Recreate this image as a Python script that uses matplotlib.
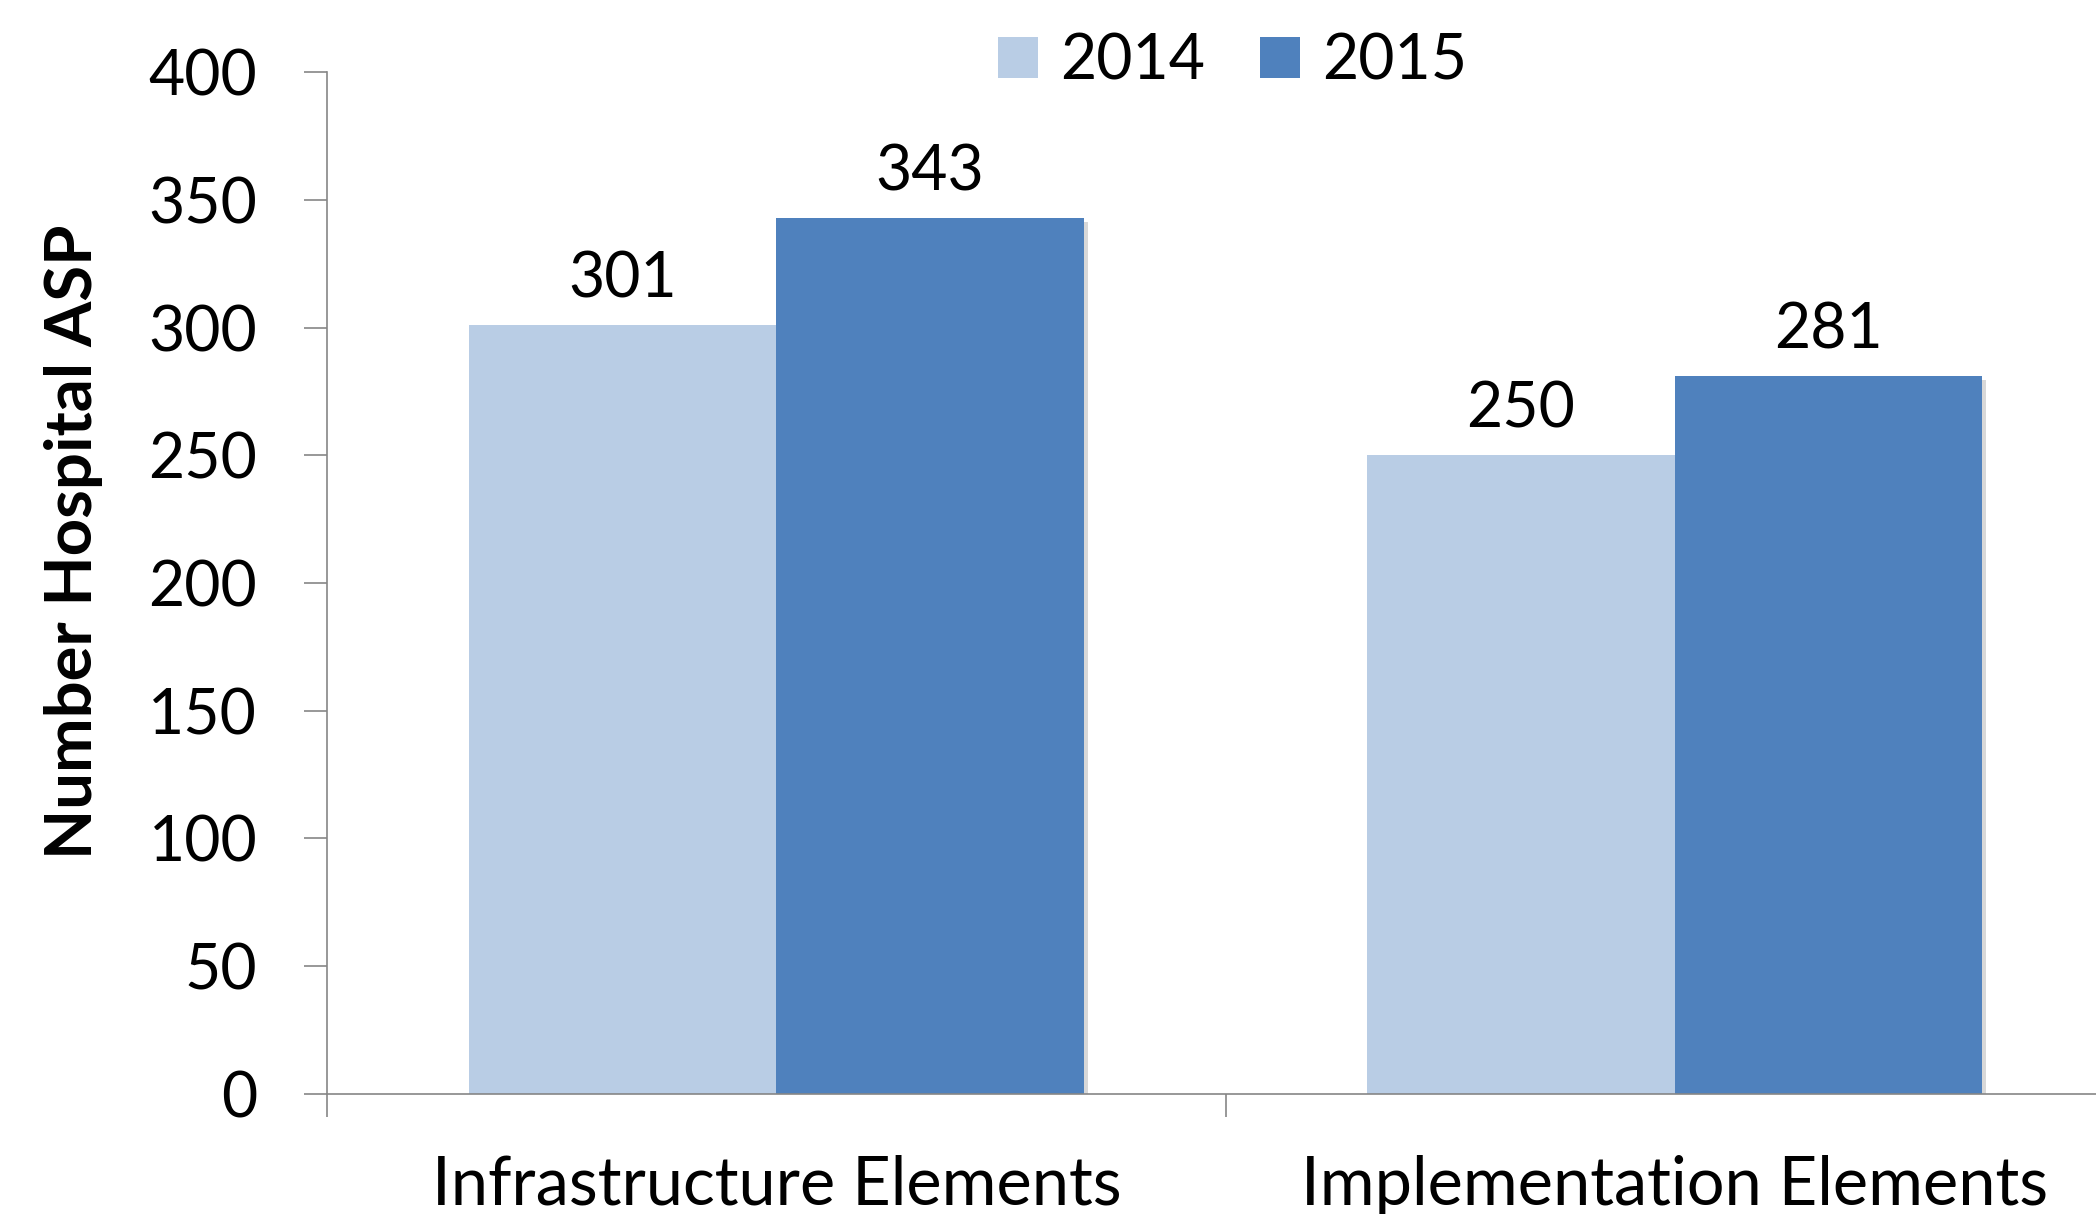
import matplotlib
matplotlib.use('Agg')
import matplotlib.pyplot as plt
import matplotlib.patheffects as pe
from matplotlib.patches import Patch
import numpy as np

categories = ['Infrastructure Elements', 'Implementation Elements']
years = ['2014', '2015']
values_2014 = [301, 250]
values_2015 = [343, 281]
colors = ['#B9CDE5', '#4F81BD']
yticks = [0, 50, 100, 150, 200, 250, 300, 350, 400]

plt.rcParams['font.family'] = ['Lato', 'DejaVu Sans']

fig = plt.figure(figsize=(20.96, 12.14), dpi=100)
ax = fig.add_axes([0.1562, 0.0991, 0.857, 0.8414])

x = np.arange(len(categories))
w = 0.342
shadow = [pe.SimplePatchShadow(offset=(3, -3), shadow_rgbFace='#7f7f7f', alpha=0.3), pe.Normal()]
b1 = ax.bar(x - w / 2, values_2014, w, color=colors[0], zorder=2)
b2 = ax.bar(x + w / 2, values_2015, w, color=colors[1], zorder=3)
for b in list(b1) + list(b2):
    b.set_path_effects(shadow)

fs = 45
for bars, vals in [(b1, values_2014), (b2, values_2015)]:
    for b, v in zip(bars, vals):
        ax.annotate(str(v), (b.get_x() + b.get_width() / 2, v), xytext=(0, 20),
                    textcoords='offset points', ha='center', va='baseline', fontsize=fs)

ax.set_xlim(-0.5, 1.5)
ax.set_ylim(0, 400)
ax.set_yticks(yticks)
ax.set_xticks(x)
ax.set_xticklabels(categories)
ax.set_xticks([-0.5, 0.5, 1.5], minor=True)
ax.tick_params(axis='x', which='major', length=0, pad=44, labelsize=48)
ax.tick_params(axis='x', which='minor', length=16.5, width=1.2, color='#868686', direction='out')
ax.tick_params(axis='y', length=16.5, width=1.2, color='#868686', direction='out', pad=34, labelsize=fs)

for s in ['top', 'right']:
    ax.spines[s].set_visible(False)
for s in ['left', 'bottom']:
    ax.spines[s].set_color('#868686')
    ax.spines[s].set_linewidth(1.2)
ax.spines['bottom'].set_zorder(4)

fig.text(55 / 1568, 1 - 405 / 908, 'Number Hospital ASP', rotation=90, ha='center', va='center',
         fontsize=47, fontweight='bold')

handles = [Patch(facecolor=c, label=y) for c, y in zip(colors, years)]
ax.legend(handles=handles, loc='center', bbox_to_anchor=(0.504, 1.0105), ncol=2, frameon=False, fontsize=fs,
          handlelength=0.64, handleheight=0.64, handletextpad=0.35, columnspacing=0.88, borderpad=0)

fig.savefig('out.png', dpi=100)
